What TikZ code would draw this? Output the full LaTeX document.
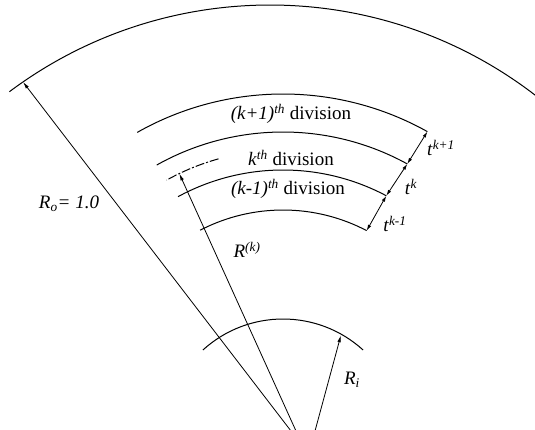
\documentclass[tikz,border=0pt]{standalone}
\usepackage{fontspec}
\setmainfont{Liberation Serif}
\usetikzlibrary{calc,arrows.meta}
\begin{document}
\begin{tikzpicture}[x=1pt,y=1pt,
  arcline/.style={line width=1pt},
  radline/.style={line width=0.8pt,-{Latex[length=7pt,width=3.5pt]}},
  tarrow/.style={line width=0.8pt,{Latex[length=6pt,width=3.5pt]}-{Latex[length=6pt,width=3.5pt]}},
  lbl/.style={font=\fontsize{19}{23}\selectfont, inner sep=0pt},
  dashdotarc/.style={line width=1pt,dash pattern=on 9pt off 2pt on 2pt off 2pt}]
\useasboundingbox (0,0) rectangle (535,429);
% centres
\coordinate (C) at (283,39);
\coordinate (O) at (270,-11);
\coordinate (I) at (283,-9);
% outer boundary R_o
\draw[arcline] ($(O)+(52:435pt)$) coordinate (Oright)
  arc[start angle=52,end angle=126.8,radius=435pt] coordinate (Oleft);
% inner boundary R_i
\draw[arcline] ($(I)+(47.7:119pt)$) coordinate (Iright)
  arc[start angle=47.7,end angle=132.3,radius=119pt] coordinate (Ileft);
% division arcs
\draw[arcline] ($(C)+(60.8:296pt)$) coordinate (A2)
  arc[start angle=60.8,end angle=119.5,radius=296pt] coordinate (A1);
\draw[arcline] ($(C)+(61.2:258pt)$) coordinate (B2)
  arc[start angle=61.2,end angle=119.3,radius=258pt] coordinate (B1);
\draw[arcline] ($(C)+(62:220pt)$) coordinate (C2)
  arc[start angle=62,end angle=118.5,radius=220pt] coordinate (C1);
\draw[arcline] ($(C)+(62.3:180pt)$) coordinate (D2)
  arc[start angle=62.3,end angle=117.4,radius=180pt] coordinate (D1);
% mid-radius of k-th division
\draw[dashdotarc] ($(C)+(105.6:240pt)$) coordinate (M2)
  arc[start angle=105.6,end angle=119,radius=240pt] coordinate (M1);
% tip coordinates
\coordinate (RoTip) at ($(O)+(124.6:435pt)$);
\coordinate (RkTip) at ($(C)+(115.6:240pt)$);
\coordinate (RiTip) at ($(I)+(60.6:118pt)$);
\coordinate (RoBase) at (291,-2);
\coordinate (RkBase) at (296,-2);
\coordinate (RiBase) at (315,-2);
% radius arrows
\draw[radline] (RoBase) -- (RoTip);
\draw[radline] (RkBase) -- (RkTip);
\draw[radline] (RiBase) -- (RiTip);
% thickness arrows
\draw[tarrow] (B2) -- (A2);
\draw[tarrow] (C2) -- (B2);
\draw[tarrow] (D2) -- (C2);
% labels
\node[lbl] (L1) at (291,315) {\textit{(k+1)}\textsuperscript{\textit{th}} division};
\node[lbl] (L2) at (291,271) {\textit{k}\textsuperscript{\textit{th}} division};
\node[lbl] (L3) at (288,240) {\textit{(k-1)}\textsuperscript{\textit{th}} division};
\node[lbl] (LRk) at (247,179) {\textit{R}\textsuperscript{\textit{(k)}}};
\node[lbl] (LRo) at (69,225) {\textit{R\textsubscript{o}= 1.0}};
\node[lbl] (LRi) at (352,49) {\textit{R\textsubscript{i}}};
\node[lbl] (Lt1) at (441,281) {\textit{t}\textsuperscript{\textit{k+1}}};
\node[lbl] (Lt2) at (411,242) {\textit{t}\textsuperscript{\textit{k}}};
\node[lbl] (Lt3) at (395,205) {\textit{t}\textsuperscript{\textit{k-1}}};
\end{tikzpicture}
\end{document}
